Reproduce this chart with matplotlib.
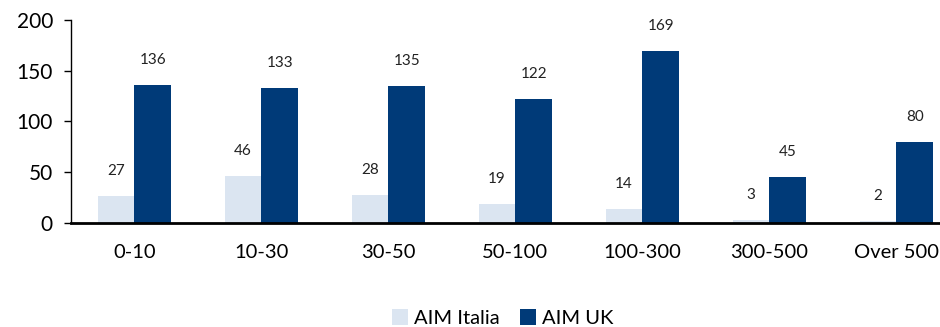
import matplotlib.pyplot as plt
import numpy as np

categories = ["0-10", "10-30", "30-50", "50-100", "100-300", "300-500", "Over 500"]
aim_italia = [27, 46, 28, 19, 14, 3, 2]
aim_uk = [136, 133, 135, 122, 169, 45, 80]

plt.rcParams['font.family'] = ['Lato', 'DejaVu Sans']

fig = plt.figure(figsize=(9.4, 3.27), dpi=100)
ax = fig.add_axes([0.0755, 0.318, 0.9457, 0.621])

x = np.arange(len(categories))
w = 0.29
b1 = ax.bar(x - w / 2, aim_italia, w, color='#dbe5f1', label='AIM Italia')
b2 = ax.bar(x + w / 2, aim_uk, w, color='#003a78', label='AIM UK')

for bars, vals in [(b1, aim_italia), (b2, aim_uk)]:
    for r, v in zip(bars, vals):
        ax.annotate(str(v), (r.get_x() + r.get_width() / 2, v), xytext=(0, 18),
                    textcoords='offset points', ha='center', va='center',
                    fontsize=11, color='#222222')

ax.set_xlim(-0.5, len(categories) - 0.5)
ax.set_ylim(0, 200)
ax.set_yticks([0, 50, 100, 150, 200])
ax.set_xticks(x)
ax.set_xticklabels(categories)
ax.tick_params(axis='x', length=0, pad=15, labelsize=14.5)
ax.tick_params(axis='y', length=5, width=1, labelsize=15, pad=8)
for s in ['top', 'right']:
    ax.spines[s].set_visible(False)
ax.spines['bottom'].set_linewidth(2)
ax.spines['left'].set_linewidth(1)

fig.legend(loc='lower center', bbox_to_anchor=(0.535, -0.055), ncol=2, frameon=False,
           fontsize=14.5, handlelength=0.8, handleheight=0.8, handletextpad=0.3,
           columnspacing=1.0)

fig.savefig('out.png', dpi=100)
